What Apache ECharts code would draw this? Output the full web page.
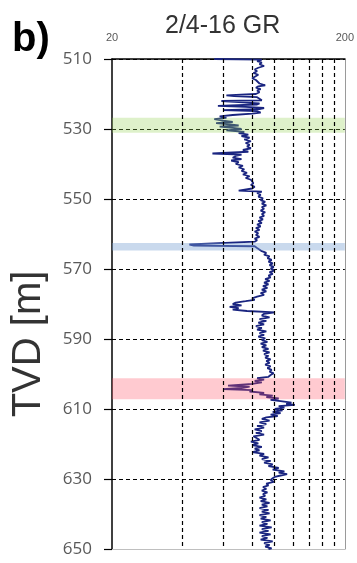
<!DOCTYPE html>
<html>
<head>
<meta charset="utf-8">
<title>2/4-16 GR</title>
<script src="https://cdn.jsdelivr.net/npm/echarts@6/dist/echarts.min.js"></script>
<style>
html, body { margin: 0; padding: 0; background: #fff; }
#chart { width: 357px; height: 563px; }
</style>
</head>
<body>
<div id="chart"></div>
<script>
// [TVD m, GR API]
const grLog = [
    [510.0, 55], [510.2, 88], [510.6, 84], [511.0, 88], [511.5, 86], [512.0, 90], [512.5, 85], [513.0, 82],
    [513.5, 84], [514.0, 81], [514.5, 85], [515.0, 84], [515.5, 80], [516.0, 83], [516.5, 82], [517.0, 86],
    [517.5, 91], [517.8, 85], [518.2, 83], [518.6, 87], [519.0, 84], [519.5, 86], [520.0, 83], [520.4, 62],
    [520.6, 67], [520.9, 84], [521.3, 85], [521.8, 88], [522.0, 59], [522.3, 70], [522.7, 86], [523.0, 84],
    [523.4, 57], [523.7, 75], [524.0, 90], [524.3, 86], [524.6, 60], [524.9, 84], [525.3, 87], [525.6, 80],
    [526.0, 66], [526.4, 58], [526.8, 62], [527.2, 55], [527.6, 60], [528.0, 66], [528.3, 56], [528.7, 64],
    [529.0, 70], [529.3, 58], [529.7, 66], [530.0, 72], [530.4, 62], [530.8, 74], [531.2, 70], [531.6, 77],
    [532.0, 72], [532.5, 78], [533.0, 74], [533.5, 79], [534.0, 75], [534.5, 78], [535.0, 76], [535.5, 79],
    [536.0, 73], [536.5, 77], [537.0, 54], [537.3, 72], [537.7, 68], [538.2, 66], [538.6, 72], [539.0, 65],
    [539.5, 70], [540.0, 68], [540.5, 73], [541.0, 70], [541.5, 74], [542.0, 72], [542.5, 76], [543.0, 73],
    [543.5, 78], [544.0, 75], [544.5, 79], [545.0, 78], [545.5, 81], [546.0, 79], [546.5, 82], [547.0, 80],
    [547.6, 70], [547.9, 88], [548.3, 84], [548.8, 87], [549.3, 85], [549.8, 89], [550.3, 87], [550.8, 91],
    [551.3, 88], [551.8, 92], [552.3, 88], [552.8, 90], [553.3, 87], [553.8, 91], [554.3, 88], [554.8, 90],
    [555.3, 86], [555.8, 89], [556.3, 85], [556.8, 88], [557.3, 84], [557.8, 87], [558.3, 83], [558.8, 86],
    [559.3, 82], [559.8, 85], [560.3, 83], [560.8, 86], [561.3, 82], [561.8, 84], [562.2, 82], [563.0, 43],
    [563.3, 45], [563.5, 82], [564.0, 84], [564.4, 83], [564.9, 88], [565.4, 92], [565.9, 90], [566.4, 95],
    [566.9, 93], [567.4, 97], [567.9, 94], [568.4, 98], [568.9, 95], [569.4, 99], [569.9, 96], [570.4, 100],
    [570.9, 95], [571.4, 98], [571.9, 94], [572.4, 96], [572.9, 91], [573.4, 95], [573.9, 90], [574.4, 94],
    [574.9, 89], [575.4, 93], [575.9, 88], [576.4, 92], [576.9, 87], [577.4, 90], [577.9, 84], [578.4, 80],
    [578.8, 82], [579.2, 75], [579.6, 68], [580.0, 66], [580.4, 72], [580.8, 64], [581.2, 70], [581.6, 66],
    [582.0, 76], [582.4, 100], [582.8, 90], [583.3, 88], [583.8, 95], [584.3, 86], [584.8, 92], [585.3, 85],
    [585.8, 90], [586.3, 83], [586.8, 88], [587.3, 84], [587.8, 92], [588.3, 86], [588.8, 90], [589.3, 85],
    [589.8, 91], [590.3, 88], [590.8, 93], [591.3, 87], [591.8, 92], [592.3, 88], [592.8, 94], [593.3, 89],
    [593.8, 95], [594.3, 90], [594.8, 94], [595.3, 91], [595.8, 96], [596.3, 92], [596.8, 95], [597.3, 91],
    [597.8, 96], [598.3, 93], [598.8, 97], [599.3, 95], [599.8, 99], [600.3, 96], [600.8, 94], [601.2, 84],
    [601.6, 90], [602.0, 82], [602.4, 88], [602.8, 80], [603.3, 63], [603.6, 78], [604.0, 72], [604.3, 60],
    [604.6, 80], [605.0, 78], [605.4, 90], [605.8, 86], [606.2, 98], [606.6, 92], [607.0, 104], [607.4, 96],
    [607.8, 108], [608.2, 118], [608.5, 112], [608.8, 122], [609.2, 104], [609.6, 110], [610.0, 100], [610.4, 108],
    [610.8, 98], [611.2, 106], [611.6, 96], [612.0, 103], [612.4, 92], [612.8, 88], [613.3, 95], [613.8, 86],
    [614.3, 92], [614.8, 84], [615.3, 90], [615.8, 82], [616.3, 88], [616.8, 83], [617.3, 90], [617.8, 81],
    [618.3, 80], [618.8, 86], [619.3, 79], [619.8, 85], [620.3, 80], [620.8, 88], [621.3, 82], [621.8, 86],
    [622.3, 80], [622.8, 90], [623.3, 86], [623.8, 94], [624.3, 88], [624.8, 96], [625.3, 90], [625.8, 98],
    [626.3, 94], [626.8, 104], [627.3, 98], [627.8, 110], [628.2, 104], [628.6, 113], [629.0, 106], [629.4, 100],
    [629.8, 98], [630.3, 96], [630.8, 99], [631.3, 92], [631.8, 94], [632.3, 89], [632.8, 92], [633.3, 88],
    [633.8, 93], [634.3, 89], [634.8, 91], [635.3, 86], [635.8, 92], [636.3, 87], [636.8, 95], [637.3, 88],
    [637.8, 93], [638.3, 86], [638.8, 94], [639.3, 88], [639.8, 95], [640.3, 86], [640.8, 92], [641.3, 87],
    [641.8, 96], [642.3, 88], [642.8, 93], [643.3, 86], [643.8, 97], [644.3, 88], [644.8, 94], [645.3, 86],
    [645.8, 96], [646.3, 88], [646.8, 93], [647.3, 87], [647.8, 98], [648.3, 90], [648.8, 95], [649.3, 91],
    [649.8, 97], [650.0, 94]
]

// highlighted intervals, top / bottom depth
const zoneDepths = [[526.8, 531.1], [562.6, 564.7], [601.2, 607.2]]
const zoneColors = ['rgba(146,208,80,0.3)', 'rgba(120,160,210,0.4)', 'rgba(255,80,100,0.3)']

const grLabels = [20, 200]
const grGridLines = [40, 60, 80, 100, 120, 140, 160, 180]
const depthMin = 510
const depthMax = 650
const depthStep = 20

const chart = echarts.init(document.getElementById('chart'))

chart.setOption({
    animation: false,
    title: {
        text: '2/4-16 GR',
        left: 160,
        top: 9,
        textStyle: {
            fontFamily: 'Liberation Sans',
            fontSize: 25,
            fontWeight: 'normal',
            color: '#333'
        }
    },
    graphic: [{
        type: 'text',
        left: 12,
        top: 20,
        style: {
            text: 'b)',
            font: 'bold 40px "Liberation Sans"',
            fill: '#000'
        }
    }, {
        type: 'text',
        x: 29,
        y: 344,
        rotation: Math.PI / 2,
        style: {
            text: 'TVD [m]',
            font: '40px "Liberation Sans"',
            fill: '#333',
            align: 'center',
            verticalAlign: 'middle'
        }
    }],
    grid: {
        left: 112,
        right: 11,
        top: 59,
        bottom: 14
    },
    xAxis: [{
        type: 'log',
        position: 'top',
        min: 20,
        max: 200,
        axisLine: { lineStyle: { color: '#000', width: 1.5 } },
        axisTick: { show: false },
        splitLine: { show: false },
        axisLabel: {
            margin: 16,
            fontFamily: 'Liberation Sans',
            fontSize: 11,
            color: '#595959',
            showMinLabel: true,
            showMaxLabel: true,
            formatter: function (v) {
                const r = Math.round(v)
                return grLabels.indexOf(r) >= 0 ? String(r) : ''
            }
        }
    }, {
        type: 'log',
        position: 'bottom',
        min: 20,
        max: 200,
        axisLine: { lineStyle: { color: '#bfbfbf', width: 1 } },
        axisTick: { show: false },
        axisLabel: { show: false },
        splitLine: { show: false }
    }],
    yAxis: [{
        type: 'value',
        inverse: true,
        min: depthMin,
        max: depthMax,
        interval: depthStep,
        axisLine: { lineStyle: { color: '#000', width: 1.5 } },
        axisTick: { show: true, length: 8, lineStyle: { color: '#000', width: 1.2 } },
        axisLabel: {
            margin: 20,
            fontFamily: 'Open Sans',
            fontSize: 17,
            color: '#595959'
        },
        splitLine: {
            show: true,
            showMaxLine: false,
            lineStyle: { color: '#000', width: 1.2, type: [4, 3] }
        }
    }, {
        type: 'value',
        position: 'right',
        inverse: true,
        min: depthMin,
        max: depthMax,
        axisLine: { show: true, lineStyle: { color: '#9a9a9a', width: 1 } },
        axisTick: { show: false },
        axisLabel: { show: false },
        splitLine: { show: false }
    }],
    series: [{
        // vertical grid lines of the log scale
        type: 'line',
        data: [],
        z: 1,
        silent: true,
        markLine: {
            silent: true,
            symbol: 'none',
            label: { show: false },
            lineStyle: { color: '#000', width: 1.2, type: [4, 3] },
            data: grGridLines.map(v => ({ xAxis: v }))
        }
    }, {
        name: 'GR',
        type: 'line',
        z: 2,
        showSymbol: false,
        symbol: 'none',
        clip: true,
        lineStyle: { color: '#1a2580', width: 1.8 },
        data: grLog.map(d => [d[1], d[0]])
    }, {
        type: 'line',
        data: [],
        z: 5,
        silent: true,
        markArea: {
            silent: true,
            z: 5,
            data: zoneDepths.map((z, i) => [
                { yAxis: z[0], itemStyle: { color: zoneColors[i] } },
                { yAxis: z[1] }
            ])
        }
    }]
})
</script>
</body>
</html>
